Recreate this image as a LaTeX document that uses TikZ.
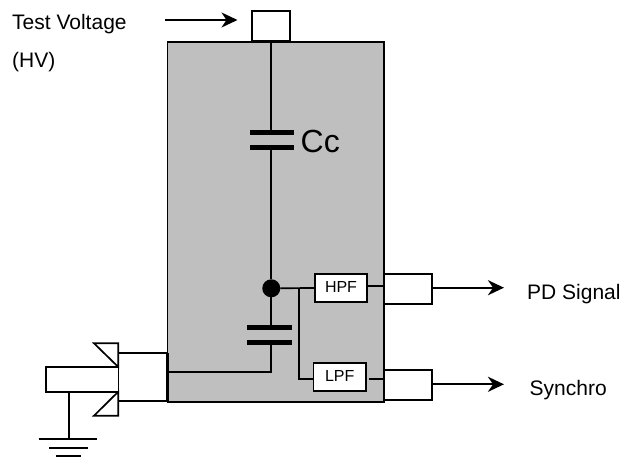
\documentclass[tikz,border=0pt]{standalone}
\usepackage{fontspec}
\setmainfont{Liberation Sans}
\usetikzlibrary{arrows.meta}
\tikzset{
  pbox/.style={draw=black,fill=white,line width=1.7pt,inner sep=0pt,outer sep=0pt,anchor=center},
  housing/.style={draw=black,fill=black!25,line width=1.7pt,inner sep=0pt,outer sep=0pt},
  wire/.style={draw=black,line width=1.7pt},
  plate/.style={draw=black,line width=5.5pt},
  flow/.style={draw=black,line width=2.2pt,-{Stealth[length=16pt,width=15pt,inset=5pt]}},
  lbl/.style={font=\fontsize{21}{25}\selectfont,text=black,inner sep=0pt,anchor=base west},
  flbl/.style={font=\fontsize{16}{19}\selectfont,text=black,inner sep=0pt},
}
\begin{document}
\begin{tikzpicture}[x=1pt,y=-1pt]
\useasboundingbox (0,0) rectangle (627,457);
% housing
\node[housing,minimum width=216.5pt,minimum height=360pt] (house) at (275.75,222) {};
% top terminal and test voltage
\node[pbox,minimum width=38pt,minimum height=30pt] (topbox) at (271.3,25.7) {};
\coordinate (inS) at (165,20);
\coordinate (inE) at (237.5,20);
\draw[flow] (inS) -- (inE);
\node[lbl] (tv) at (12,30) {Test Voltage};
\node[lbl] (hv) at (12,68) {(HV)};
% Cc
\coordinate (c1a) at (271.3,135);
\coordinate (c1b) at (271.3,148);
\fill[black] (271.3,288.3) circle (9);
\node[circle,inner sep=0pt,minimum size=18pt,outer sep=0pt] (dot) at (271.3,288.3) {};
\draw[wire] (topbox.south) -- (c1a);
\draw[wire] (c1b) -- (dot);
\draw[plate] (250,132.7) -- (294,132.7);
\draw[plate] (250,147.7) -- (294,147.7);
\node[font=\fontsize{32}{38}\selectfont,inner sep=0pt,anchor=base west] (cc) at (300.5,152.7) {Cc};
% lower capacitor
\coordinate (c2a) at (271.3,327);
\coordinate (c2b) at (271.3,342);
\coordinate (c2c) at (271.3,372.3);
\coordinate (c2d) at (167.5,372.3);
\draw[wire] (dot) -- (c2a);
\draw[wire] (c2b) -- (c2c) -- (c2d);
\draw[plate] (247.3,327.3) -- (291.7,327.3);
\draw[plate] (247.3,342.3) -- (291.7,342.3);
% filters
\node[pbox,minimum width=52.6pt,minimum height=28pt,flbl] (hpf) at (341,288) {\raisebox{2.5pt}{HPF}};
\node[pbox,minimum width=52.6pt,minimum height=28pt,flbl] (lpf) at (339.7,377.3) {\raisebox{2.5pt}{LPF}};
\coordinate (jn) at (299.3,288.3);
\coordinate (jl) at (299.3,379.3);
\draw[wire] (dot) -- (hpf.west);
\draw[wire] (jn) -- (jl) -- (jl-|lpf.west);
% output boxes
\node[pbox,minimum width=48pt,minimum height=30pt] (hout) at (408,289) {};
\node[pbox,minimum width=48pt,minimum height=30pt] (lout) at (408,385) {};
\coordinate (hw) at (367.3,286);
\coordinate (hwe) at (384,286);
\coordinate (lw) at (368.5,379);
\coordinate (lwe) at (384,379);
\draw[wire] (hw) -- (hwe);
\draw[wire] (lw) -- (lwe);
\coordinate (ha) at (504,287.7);
\coordinate (la) at (504,384.3);
\draw[flow] (hout.east|-ha) -- (ha);
\draw[flow] (lout.east|-la) -- (la);
\node[lbl] (pd) at (527,299.3) {PD Signal};
\node[lbl] (sy) at (529.5,395.7) {Synchro};
% connector at the left
\node[pbox,minimum width=48.7pt,minimum height=48pt] (coup) at (142.7,377.3) {};
\node[pbox,minimum width=72.3pt,minimum height=24.4pt] (plug) at (82.2,379.5) {};
\draw[line width=3pt] (167,353.3) -- (167,402);
\draw[wire,line join=miter] (118.3,367) -- (94,343.3) -- (118.3,343.3) -- cycle;
\draw[wire,line join=miter] (118.3,391.7) -- (94,415.7) -- (118.3,415.7) -- cycle;
% ground
\coordinate (g0) at (69.3,391.7);
\coordinate (g1) at (69.3,439.3);
\draw[wire] (g0) -- (g1);
\draw[wire] (38.7,439.3) -- (96.7,439.3);
\draw[wire] (49,447.7) -- (88,447.7);
\draw[wire] (56,456) -- (81,456);
\end{tikzpicture}
\end{document}
